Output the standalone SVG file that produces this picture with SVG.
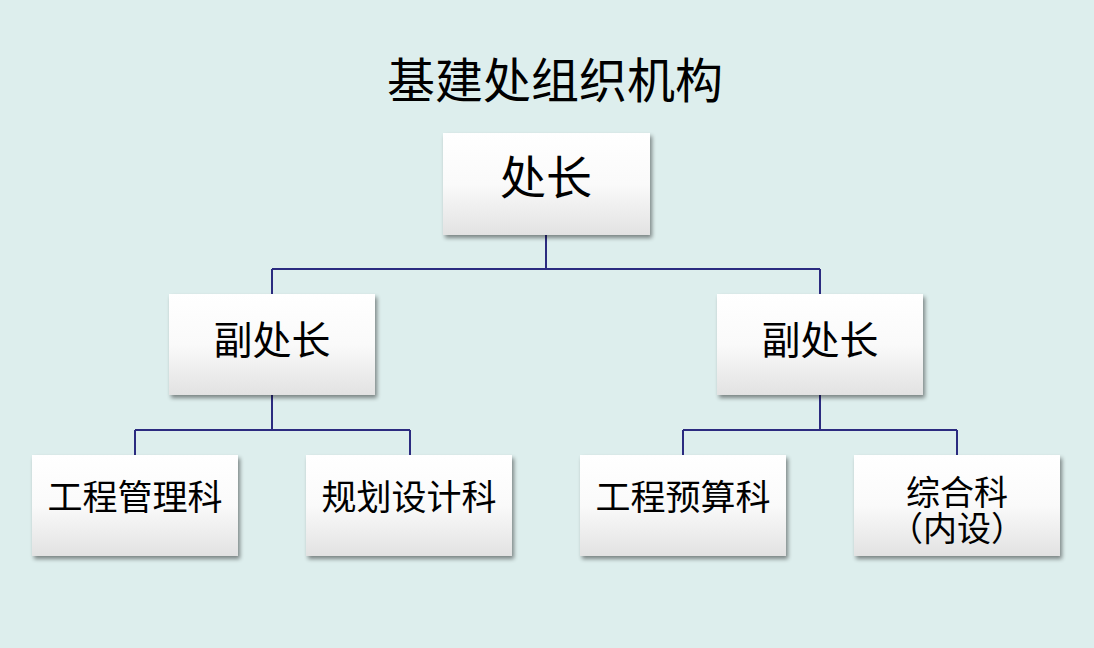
<svg xmlns="http://www.w3.org/2000/svg" width="1094" height="648" viewBox="0 0 1094 648">
<defs>
<linearGradient id="g" x1="0" y1="0" x2="0" y2="1">
<stop offset="0" stop-color="#ffffff"/>
<stop offset="0.5" stop-color="#fafafa"/>
<stop offset="1" stop-color="#e2e2e2"/>
</linearGradient>
<filter id="sh" x="-10%" y="-10%" width="125%" height="130%">
<feGaussianBlur in="SourceAlpha" stdDeviation="2"/>
<feOffset dx="2" dy="3" result="b"/>
<feComponentTransfer><feFuncA type="linear" slope="0.45"/></feComponentTransfer>
<feMerge><feMergeNode/><feMergeNode in="SourceGraphic"/></feMerge>
</filter>
</defs>
<style>
.box{fill:url(#g);filter:url(#sh)}
.t{font-family:"Liberation Serif","Noto Sans CJK SC",serif;fill:#000;text-anchor:middle}
.c{stroke:#2b2b80;stroke-width:2;fill:none}
</style>
<rect width="1094" height="648" fill="#ddeeed"/>
<text class="t" x="555" y="98" font-size="48">基建处组织机构</text>
<g id="connectors">
<path class="c" d="M546 235V269M272 269H820M272 269V294M820 269V294"/>
<path class="c" d="M272 395V430M135 430H410M135 430V455M410 430V455"/>
<path class="c" d="M820 395V430M683 430H957M683 430V455M957 430V455"/>
</g>
<g id="n0"><rect class="box" x="443" y="133" width="207" height="102"/><text class="t" x="546" y="194" font-size="46">处长</text></g>
<g id="n1"><rect class="box" x="169" y="294" width="206" height="101"/><text class="t" x="272" y="354" font-size="39">副处长</text></g>
<g id="n2"><rect class="box" x="717" y="294" width="206" height="101"/><text class="t" x="820" y="354" font-size="39">副处长</text></g>
<g id="n3"><rect class="box" x="32" y="455" width="206" height="101"/><text class="t" x="135" y="510" font-size="35">工程管理科</text></g>
<g id="n4"><rect class="box" x="306" y="455" width="206" height="101"/><text class="t" x="409" y="510" font-size="35">规划设计科</text></g>
<g id="n5"><rect class="box" x="580" y="455" width="206" height="101"/><text class="t" x="683" y="510" font-size="35">工程预算科</text></g>
<g id="n6"><rect class="box" x="854" y="455" width="206" height="101"/><text class="t" x="957" y="505" font-size="34">综合科</text><text class="t" x="957" y="541" font-size="34">（内设）</text></g>
</svg>
